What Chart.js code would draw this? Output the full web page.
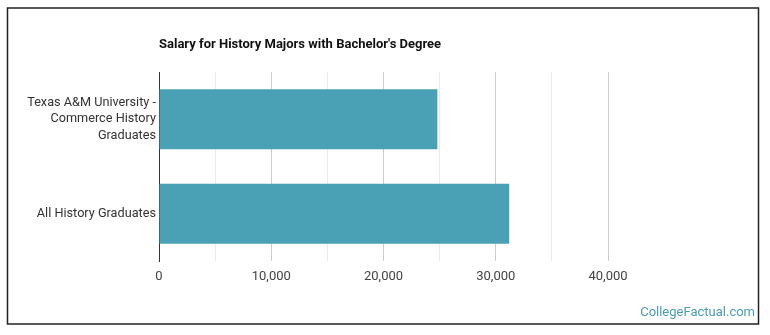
<!DOCTYPE html>
<html>
<head>
<meta charset="utf-8">
<script src="https://cdn.jsdelivr.net/npm/chart.js@4.4.0/dist/chart.umd.min.js"></script>
<style>
  body { margin: 0; background: #fff; }
  #wrap { position: relative; width: 770px; height: 335px; }
</style>
</head>
<body>
<div id="wrap"><canvas id="salaryChart" width="770" height="335"></canvas></div>
<script>
// data
const categories = [
    ['Texas A&M University -', 'Commerce History', 'Graduates'],
    'All History Graduates'
];
const salaries = [24800, 31200];
const xTicks = [0, 10000, 20000, 30000, 40000];

const chartTitle = "Salary for History Majors with Bachelor's Degree";
const creditText = 'CollegeFactual.com';

// title, credit and frame are drawn by hand
const decorPlugin = {
    id: 'decor',
    afterDraw(chart) {
        const ctx = chart.ctx;
        ctx.save();
        ctx.strokeStyle = '#222';
        ctx.lineWidth = 1.5;
        ctx.strokeRect(7.5, 8, 751, 316);

        ctx.fillStyle = '#111';
        ctx.font = 'bold 13px Roboto';
        ctx.textBaseline = 'middle';
        ctx.textAlign = 'left';
        ctx.fillText(chartTitle, 159, 45);

        ctx.fillStyle = '#4a9db3';
        ctx.font = '13px Roboto';
        ctx.textAlign = 'right';
        ctx.fillText(creditText, 755, 313);
        ctx.restore();
    }
};

new Chart(document.getElementById('salaryChart').getContext('2d'), {
    type: 'bar',
    data: {
        labels: categories,
        datasets: [{
            data: salaries,
            backgroundColor: '#4aa0b5',
            borderWidth: 0,
            barPercentage: 0.635,
            categoryPercentage: 1
        }]
    },
    options: {
        indexAxis: 'y',
        responsive: false,
        animation: false,
        layout: { padding: { left: 0, right: 162, top: 72, bottom: 0 } },
        plugins: {
            legend: { display: false },
            tooltip: { enabled: false }
        },
        scales: {
            x: {
                min: 0,
                max: 40000,
                afterFit: function(scale) { scale.height = 74; },
                afterBuildTicks: function(scale) {
                    const t = [];
                    for (let v = 0; v <= 40000; v += 5000) t.push({ value: v });
                    scale.ticks = t;
                },
                border: { display: false },
                grid: {
                    drawTicks: false,
                    color: function(c) {
                        if (!c.tick) return '#e6e6e6';
                        return xTicks.includes(c.tick.value) ? '#cccccc' : '#ebebeb';
                    }
                },
                ticks: {
                    padding: 8,
                    color: '#444',
                    font: { family: 'Roboto', size: 13 },
                    autoSkip: false,
                    maxRotation: 0,
                    callback: function(value) {
                        return xTicks.includes(value) ? value.toLocaleString('en-US') : '';
                    }
                }
            },
            y: {
                afterFit: function(scale) { scale.width = 159; },
                border: { display: true, color: '#333', width: 1 },
                grid: { display: false, drawTicks: false },
                ticks: {
                    padding: 3,
                    color: '#333',
                    font: { family: 'Roboto', size: 12.7, lineHeight: 1.33 }
                }
            }
        }
    },
    plugins: [decorPlugin]
});
</script>
</body>
</html>
